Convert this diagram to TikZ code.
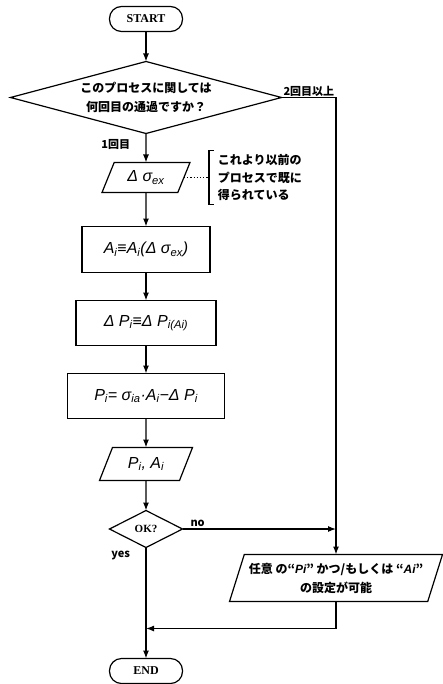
\documentclass[tikz,border=0pt]{standalone}
\usepackage{fontspec}
\newfontfamily\jpfont{Noto Sans CJK JP}
\newfontfamily\formfont{Liberation Sans}
\newfontfamily\termfont{Liberation Serif}
\usetikzlibrary{positioning, arrows.meta, calc, shapes.geometric}
\newcommand{\idx}[1]{\textsubscript{#1}}

\begin{document}
\begin{tikzpicture}[
  x=1pt, y=1pt, line width=1.2pt,
  node distance=29pt,
  every node/.style={font=\jpfont\bfseries\fontsize{12}{19}\selectfont, inner sep=0pt, outer sep=0pt, align=center},
  terminal/.style={rectangle, draw, rounded corners=12pt, minimum width=73pt, minimum height=25pt, font=\termfont\bfseries\fontsize{12}{14}\selectfont},
  decision/.style={diamond, draw, aspect=3.76, inner sep=0pt},
  procbox/.style={rectangle, draw, minimum height=45pt, font=\formfont\itshape\fontsize{16}{20}\selectfont},
  iobox/.style={trapezium, trapezium stretches body=true, trapezium left angle=67, trapezium right angle=113, inner ysep=7.5pt, draw, font=\formfont\itshape\fontsize{16}{20}\selectfont},
  lbl/.style={font=\jpfont\bfseries\fontsize{11}{12}\selectfont},
  arr/.style={-{Latex[length=8pt,width=6pt]}}
]
\useasboundingbox (0,0) rectangle (443,-684);

% main column
\node[terminal] (start) at (146,-19) {START};
\node[decision, minimum width=271pt, minimum height=72pt, below=30pt of start] (decide) {このプロセスに関しては\\何回目の通過ですか？};
\node[iobox, minimum width=88pt, minimum height=30pt, below=29pt of decide] (dsig) {Δ σ\idx{ex}};
\node[procbox, minimum width=128pt, minimum height=46pt, below=34pt of dsig] (area) {A\idx{i}≡A\idx{i}(Δ σ\idx{ex})};
\node[procbox, minimum width=140pt, below=28pt of area] (loss) {Δ P\idx{i}≡Δ P\idx{i(Ai)}};
\node[procbox, minimum width=157pt, below=28pt of loss] (force) {P\idx{i}= σ\idx{ia}·A\idx{i}−Δ P\idx{i}};
\node[iobox, inner ysep=8.5pt, minimum width=93pt, minimum height=33pt, below=29pt of force] (result) {P\idx{i}, A\idx{i}};
\node[decision, minimum width=73pt, minimum height=37pt, below=30pt of result, font=\termfont\bfseries\fontsize{11}{12}\selectfont] (ok) {OK?};
\node[terminal, below=111pt of ok] (finish) {END};

% side branch
\node[iobox, trapezium left angle=72, trapezium right angle=108, inner ysep=7.5pt, minimum width=213pt, minimum height=47pt, font=\jpfont\bfseries\fontsize{12}{19}\selectfont] (setpar) at (336,-578) {任意 の“{\formfont\itshape Pi}” かつ/もしくは “{\formfont\itshape Ai}”\\の設定が可能};

% note
\node[right=34pt of dsig, align=left, inner ysep=4pt, font=\jpfont\bfseries\fontsize{12}{17.5}\selectfont] (note) {これより以前の\\プロセスで既に\\得られている};
\coordinate[left=9pt of note.west] (brk);
\draw (brk |- note.north) ++(5,0) -- ++(-5,0) -- (brk |- note.south) -- ++(5,0);
\draw[dotted] (dsig.east) -- (brk);

% connectors
\draw[arr] (start) -- (decide);
\draw[arr] (decide) -- (dsig);
\draw[arr] (dsig) -- (area);
\draw[arr] (area) -- (loss);
\draw[arr] (loss) -- (force);
\draw[arr] (force) -- (result);
\draw[arr] (result) -- (ok);
\draw[arr] (ok) -- (finish);
\draw[arr] (decide.east) -| (setpar.north);
\draw[arr] (ok.east) -- (ok.east -| setpar.north);
\path (ok.south) ++(0,-81) coordinate (merge);
\draw[arr] (setpar.south) |- (merge);

% labels
\node[lbl, below left=6pt and 16pt of decide.south] {1回目};
\node[lbl, above right=1pt and 2pt of decide.east] {2回目以上};
\node[lbl, above right=2pt and 8pt of ok.east] {no};
\node[lbl, below left=4pt and 16pt of ok.south] {yes};
\end{tikzpicture}
\end{document}
